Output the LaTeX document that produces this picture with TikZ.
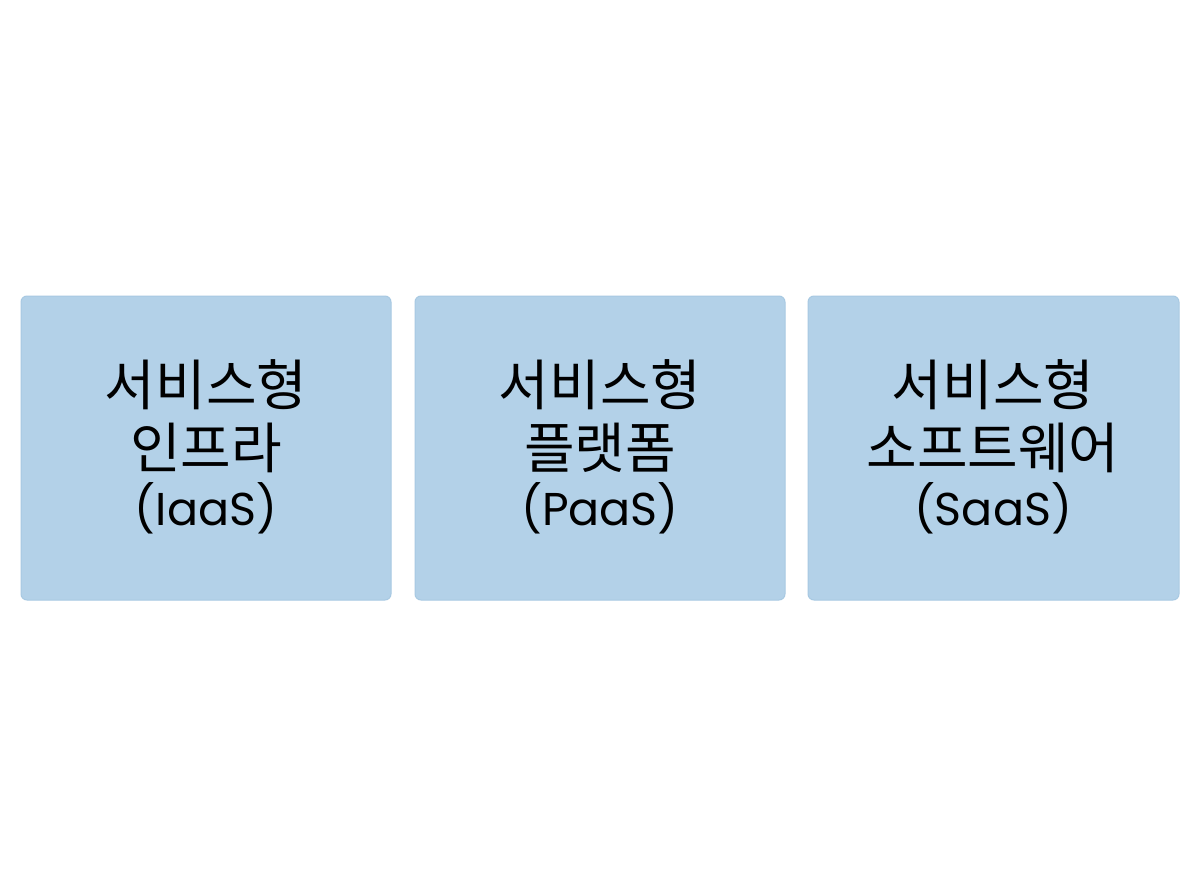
\documentclass[tikz,border=0pt]{standalone}
\usepackage{fontspec}
\setmainfont{Poppins}
\newfontfamily\kr{Noto Sans CJK KR}
\definecolor{boxfill}{RGB}{179,209,232}
\definecolor{boxline}{RGB}{168,201,226}
\begin{document}
\begin{tikzpicture}[x=1pt,y=-1pt,
  card/.style={draw=boxline, line width=1pt, fill=boxfill, rounded corners=6pt},
  lbl/.style={font=\kr\fontsize{55}{55}\selectfont, text=black, inner sep=0pt, anchor=center},
  lat/.style={font=\fontsize{46}{46}\selectfont, text=black, inner sep=0pt, anchor=center}]
\useasboundingbox[fill=white] (0,0) rectangle (1200,896);
\draw[card] (21,296) rectangle (391,600);
\draw[card] (415,296) rectangle (785,600);
\draw[card] (808,296) rectangle (1179,600);
\node[lbl] (a1) at (206,385) {서비스형};
\node[lbl] (a2) at (206,448) {인프라};
\node[lat] (a3) at (206,508) {(IaaS)};
\node[lbl] (b1) at (600,385) {서비스형};
\node[lbl] (b2) at (600,448) {플랫폼};
\node[lat] (b3) at (600,508) {(PaaS)};
\node[lbl] (c1) at (993,385) {서비스형};
\node[lbl] (c2) at (993,448) {소프트웨어};
\node[lat] (c3) at (993,508) {(SaaS)};
\end{tikzpicture}
\end{document}
